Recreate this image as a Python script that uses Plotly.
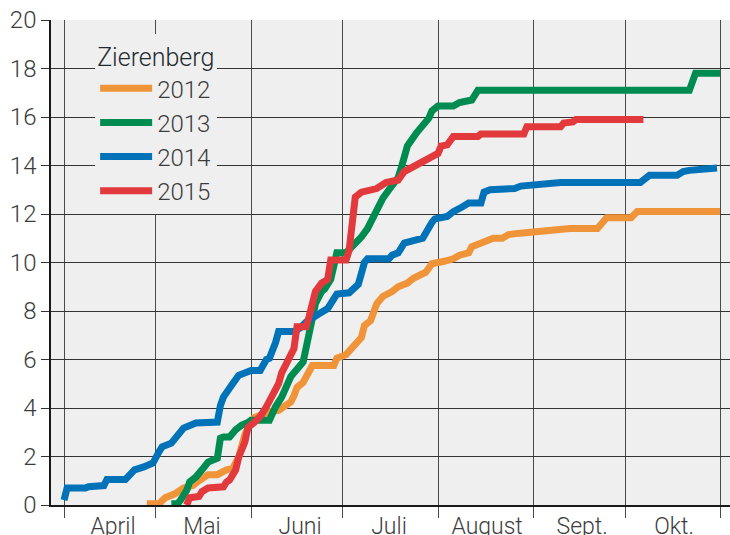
import pandas as pd
import plotly.graph_objects as go

# Tage seit 1. April, kumulierte Werte je Jahr
tage_2012 = [27,31,33,36,39,42,44,47,50,53,55,56,57,59,60,62,64,67,70,71,74,75,76,78,80,81,88,89,92,94,
             97,98,100,102,104,107,109,112,114,118,120,124,127,129,132,133,136,140,143,145,148,153,163,165,174,177,179,185,187,214]
werte_2012 = [0.05,0.05,0.3,0.45,0.7,0.8,1.0,1.25,1.25,1.45,1.5,1.75,1.98,2.9,3.2,3.6,3.7,3.85,3.9,4.0,
              4.25,4.5,4.85,5.05,5.5,5.75,5.75,6.05,6.2,6.45,6.9,7.4,7.6,8.3,8.6,8.8,9.0,9.15,9.35,9.6,
              9.95,10.05,10.15,10.3,10.4,10.65,10.8,11.0,11.0,11.15,11.2,11.25,11.35,11.4,11.4,11.85,11.85,11.85,12.1,12.1]

tage_2013 = [35,37,38,40,41,43,45,47,50,51,52,54,56,58,60,61,67,68,69,71,73,74,76,78,79,80,81,82,84,85,
             87,88,89,92,94,97,99,101,102,104,106,109,110,111,112,115,117,119,120,122,127,129,133,135,204,206,214]
werte_2013 = [0.05,0.05,0.2,0.6,0.95,1.15,1.45,1.77,1.93,2.75,2.8,2.8,3.1,3.3,3.4,3.5,3.5,3.85,4.05,4.45,
              5.0,5.3,5.6,5.9,6.5,7.2,7.9,8.3,8.8,8.9,9.3,9.8,10.4,10.4,10.65,11.05,11.4,11.9,12.25,12.65,
              13.0,13.5,13.9,14.3,14.8,15.35,15.7,15.95,16.25,16.45,16.45,16.6,16.7,17.1,17.1,17.8,17.8]

tage_2014 = [0,1,7,8,13,14,20,23,26,29,31,32,35,38,39,43,50,51,52,55,57,61,64,66,67,69,70,75,77,79,
             82,84,86,89,93,96,98,99,106,107,109,111,114,117,120,121,125,127,130,132,136,137,139,147,149,153,155,162,188,190,
             191,200,202,204,211,213]
werte_2014 = [0.2,0.7,0.7,0.75,0.8,1.05,1.05,1.45,1.57,1.73,2.2,2.4,2.55,3.0,3.17,3.38,3.42,4.1,4.45,5.0,
              5.35,5.55,5.55,6.0,6.05,6.7,7.15,7.15,7.3,7.55,7.75,7.95,8.1,8.7,8.75,9.1,10.0,10.15,10.15,10.3,
              10.4,10.8,10.9,11.0,11.65,11.8,11.9,12.1,12.3,12.45,12.45,12.9,13.0,13.05,13.15,13.2,13.25,13.3,13.3,13.55,
              13.6,13.6,13.75,13.8,13.85,13.9]

tage_2015 = [40,41,44,45,47,52,53,54,56,57,59,60,62,64,66,68,70,71,73,75,76,79,80,81,82,84,86,87,92,93,
             94,95,97,100,102,105,109,111,113,115,117,119,122,123,125,127,135,136,150,151,162,163,166,167,189]
werte_2015 = [0.0,0.3,0.35,0.55,0.7,0.75,0.95,1.03,1.45,1.98,2.6,3.2,3.4,3.65,4.05,4.6,5.0,5.45,6.0,6.45,
              7.35,7.35,7.8,8.4,8.8,9.15,9.3,10.1,10.1,10.5,11.5,12.7,12.9,13.0,13.05,13.3,13.4,13.75,13.9,14.0,
              14.2,14.35,14.5,14.8,14.85,15.2,15.2,15.3,15.3,15.6,15.6,15.75,15.8,15.9,15.9]

jahre = ["2012", "2013", "2014", "2015"]
farben = ["#F0943A", "#008C50", "#0072B8", "#E2393D"]

monatsanfang = ["2015-04-01", "2015-05-01", "2015-06-01", "2015-07-01",
                "2015-08-01", "2015-09-01", "2015-10-01", "2015-11-01"]
monat_mitte = ["2015-04-17", "2015-05-16", "2015-06-17", "2015-07-16",
               "2015-08-17", "2015-09-17", "2015-10-17"]
monat_namen = ["April", "Mai", "Juni", "Juli", "August", "Sept.", "Okt."]

basis = pd.Timestamp("2015-04-01")
serien = [(tage_2012, werte_2012), (tage_2013, werte_2013),
          (tage_2014, werte_2014), (tage_2015, werte_2015)]

FONT = "Roboto, 'Liberation Sans', sans-serif"

fig = go.Figure()
for (tage, werte), jahr, farbe in zip(serien, jahre, farben):
    x = basis + pd.to_timedelta(tage, unit="D")
    fig.add_trace(go.Scatter(x=x, y=werte, mode="lines", name=jahr,
                             line=dict(color=farbe, width=7)))

fig.update_layout(
    width=730, height=535,
    margin=dict(l=51, r=0, t=20, b=30, autoexpand=False),
    paper_bgcolor="white", plot_bgcolor="#efefef",
    font=dict(family=FONT, size=23, color="#3c3c3c", weight=300),
    showlegend=True,
    legend=dict(
        title=dict(text="Zierenberg", font=dict(family=FONT, size=25, color="#1e2a30", weight=300)),
        x=0.065, y=0.972, xanchor="left", yanchor="top",
        bgcolor="#efefef", borderwidth=0,
        itemwidth=52, tracegroupgap=0,
        font=dict(family=FONT, size=24, color="#3c3c3c", weight=300),
    ),
)

fig.update_xaxes(
    type="date", automargin=False,
    range=["2015-03-27 18:00", "2015-11-04 06:00"],
    tickmode="array", tickvals=monat_mitte, ticktext=monat_namen,
    ticks="", showgrid=False,
    showline=True, linecolor="#1a1a1a", linewidth=1.5,
    ticklabelstandoff=0,
    tickfont=dict(size=23),
    minor=dict(tickmode="array", tickvals=monatsanfang, ticks="outside", ticklen=11,
               tickwidth=1.3, tickcolor="#4a4a4a", showgrid=True,
               gridcolor="#4a4a4a", gridwidth=1.3),
    zeroline=False,
)
fig.update_yaxes(
    automargin=False,
    range=[0, 20], tickmode="linear", tick0=0, dtick=2,
    ticks="outside", ticklen=8, tickwidth=1.3, tickcolor="#333333",
    showgrid=True, gridcolor="#333333", gridwidth=1.3,
    showline=True, linecolor="#1a1a1a", linewidth=1.5,
    zeroline=False,
    tickfont=dict(size=24),
)

fig.write_html("out.html", config={"displayModeBar": False},
               post_script="document.body.style.margin='0';")
